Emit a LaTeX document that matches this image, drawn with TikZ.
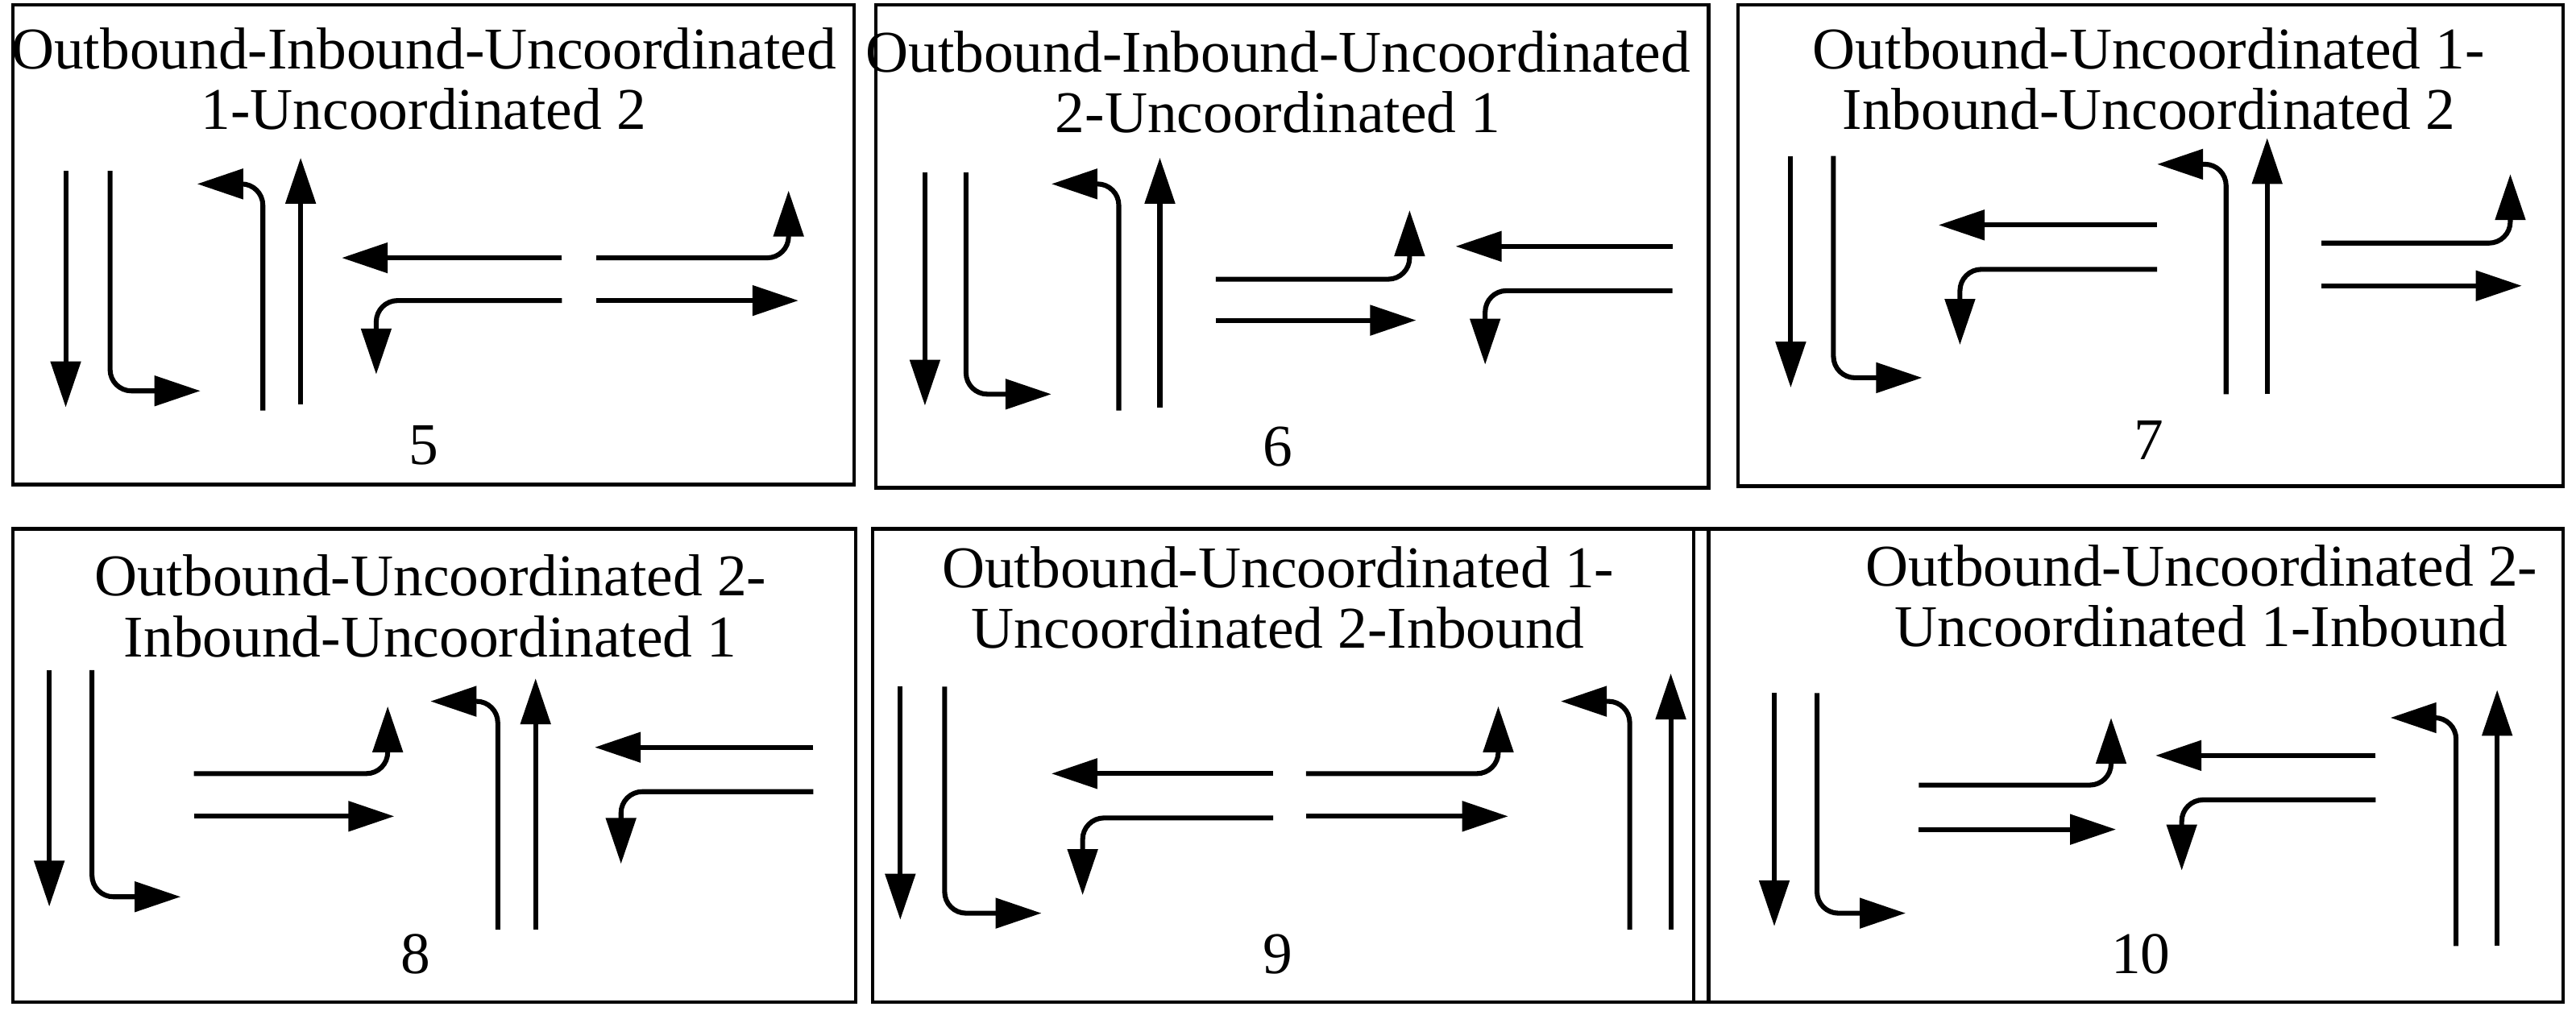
\documentclass[tikz,border=0pt]{standalone}
\usepackage{fontspec}
\setmainfont{Liberation Serif}
\usetikzlibrary{arrows.meta}

\begin{document}
\begin{tikzpicture}[%Phase sequences
  x=0.02cm, y=-0.02cm,
  panel/.style={draw=black, line width=1.2pt},
  lane/.style={line width=1.7pt, rounded corners=0.26cm, -{Triangle[length=0.56cm,width=0.36cm]}},
  plain/.style={line width=1.7pt},
  title/.style={align=center, font=\fontsize{20.5}{21}\selectfont, inner sep=0pt},
  num/.style={font=\fontsize{20.5}{21}\selectfont, inner sep=0pt}
]
\useasboundingbox (0,0) rectangle (1568,617.6);

%Panels
\draw[panel] (8,3) rectangle (520,295);
\draw[panel] (533,3) rectangle (1040,297);
\draw[panel] (1058,3) rectangle (1560,296);
\draw[panel] (8,322) rectangle (521,610);
\draw[panel] (531,322) rectangle (1040,610);
\draw[panel] (1031,322) rectangle (1560,610);

%Titles
\node[title] (t5) at (258,48) {Outbound-Inbound-Uncoordinated\\1-Uncoordinated 2};
\node[title] (t6) at (778,50) {Outbound-Inbound-Uncoordinated\\2-Uncoordinated 1};
\node[title] (t7) at (1308,48) {Outbound-Uncoordinated 1-\\Inbound-Uncoordinated 2};
\node[title] (t8) at (262,369) {Outbound-Uncoordinated 2-\\Inbound-Uncoordinated 1};
\node[title] (t9) at (778,364) {Outbound-Uncoordinated 1-\\Uncoordinated 2-Inbound};
\node[title] (t10) at (1340,363) {Outbound-Uncoordinated 2-\\Uncoordinated 1-Inbound};
\node[num] (n5) at (258,271) {5};
\node[num] (n6) at (778,272) {6};
\node[num] (n7) at (1308,268) {7};
\node[num] (n8) at (253,581) {8};
\node[num] (n9) at (778,581) {9};
\node[num] (n10) at (1303,581) {10};

%Arrows 5
\draw[lane] (40,104) -- (40,248);
\draw[lane] (67,104) -- (67,238) -- (122,238);
\draw[lane] (160,250) -- (160,112) -- (120,112);
\draw[lane] (183,246) -- (183,96);
\draw[lane] (342,157) -- (208,157);
\draw[lane] (342,183) -- (229,183) -- (229,228);
\draw[lane] (363,157) -- (480,157) -- (480,116);
\draw[lane] (363,183) -- (486,183);

%Arrows 6
\draw[lane] (563,105) -- (563,247);
\draw[lane] (588,105) -- (588,240) -- (640,240);
\draw[lane] (681,250) -- (681,112) -- (640,112);
\draw[lane] (706,248) -- (706,96);
\draw[lane] (740,170) -- (858,170) -- (858,128);
\draw[lane] (740,195) -- (862,195);
\draw[lane] (1018,150) -- (886,150);
\draw[lane] (1018,177) -- (904,177) -- (904,222);

%Arrows 7
\draw[lane] (1090,95) -- (1090,236);
\draw[lane] (1116,95) -- (1116,230) -- (1170,230);
\draw[lane] (1313,137) -- (1180,137);
\draw[lane] (1313,164) -- (1193,164) -- (1193,210);
\draw[lane] (1355,240) -- (1355,100) -- (1313,100);
\draw[lane] (1380,240) -- (1380,84);
\draw[lane] (1413,148) -- (1528,148) -- (1528,106);
\draw[lane] (1413,174) -- (1535,174);

%Arrows 8
\draw[lane] (30,408) -- (30,552);
\draw[lane] (56,408) -- (56,546) -- (110,546);
\draw[lane] (118,471) -- (236,471) -- (236,430);
\draw[lane] (118,497) -- (240,497);
\draw[lane] (303,566) -- (303,427) -- (262,427);
\draw[lane] (326,566) -- (326,413);
\draw[lane] (495,455) -- (362,455);
\draw[lane] (495,482) -- (378,482) -- (378,526);

%Arrows 9
\draw[lane] (548,418) -- (548,560);
\draw[lane] (575,418) -- (575,556) -- (634,556);
\draw[lane] (775,471) -- (640,471);
\draw[lane] (775,498) -- (659,498) -- (659,545);
\draw[lane] (795,471) -- (912,471) -- (912,430);
\draw[lane] (795,497) -- (918,497);
\draw[lane] (992,566) -- (992,427) -- (950,427);
\draw[lane] (1017,566) -- (1017,410);

%Arrows 10
\draw[lane] (1080,422) -- (1080,564);
\draw[lane] (1106,422) -- (1106,556) -- (1160,556);
\draw[lane] (1168,478) -- (1285,478) -- (1285,437);
\draw[lane] (1168,505) -- (1288,505);
\draw[lane] (1446,460) -- (1312,460);
\draw[lane] (1446,487) -- (1328,487) -- (1328,530);
\draw[lane] (1495,576) -- (1495,437) -- (1455,437);
\draw[lane] (1520,576) -- (1520,420);
\end{tikzpicture}
\end{document}
